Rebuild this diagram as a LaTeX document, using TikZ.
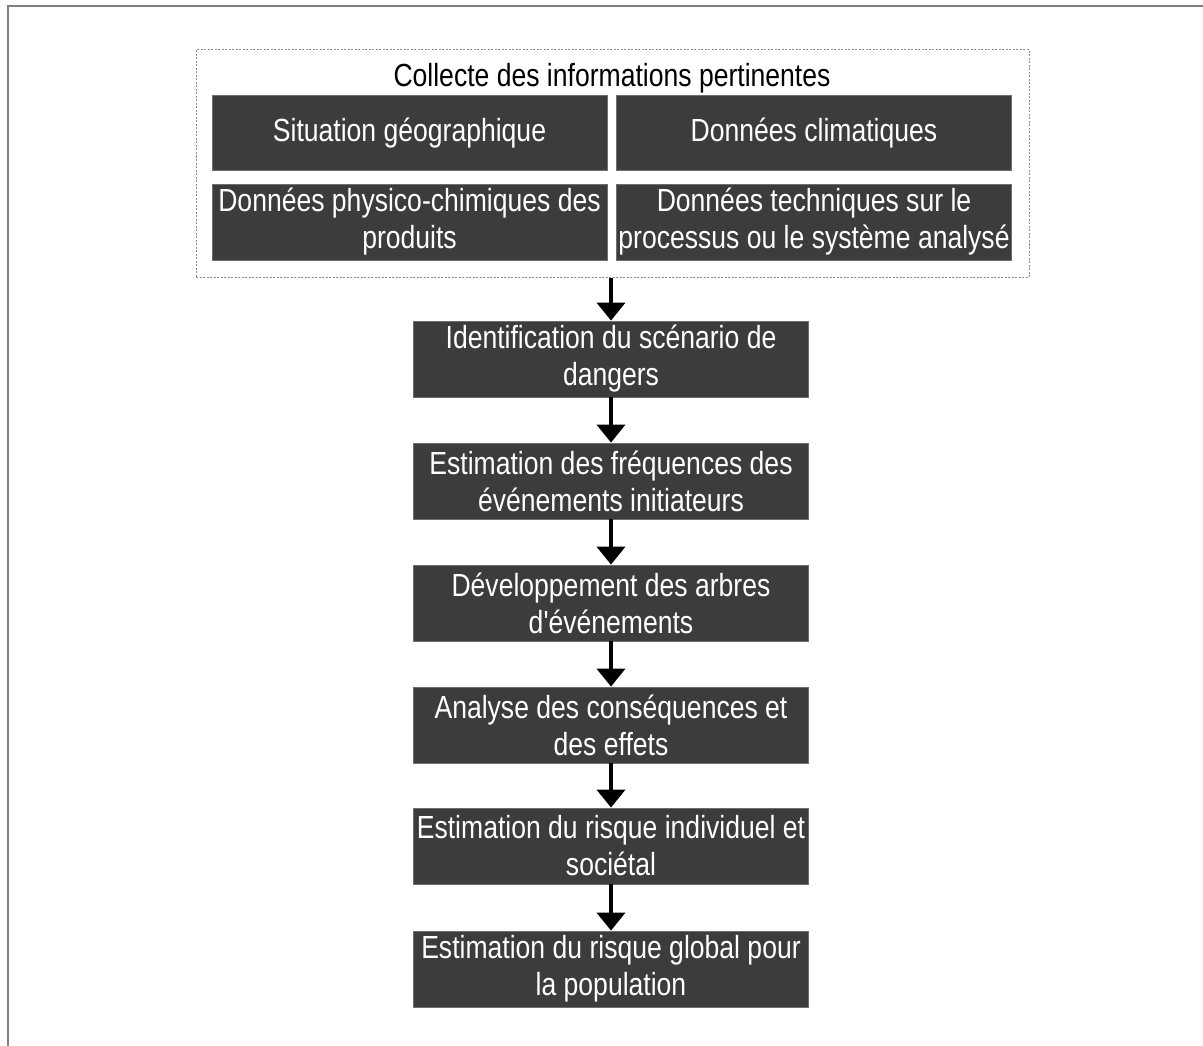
\documentclass[tikz,border=0pt]{standalone}
\usepackage{fontspec}
\setmainfont{Liberation Sans}[FakeStretch=0.83]
\newfontfamily\plainfont{Liberation Sans}[FakeStretch=0.83]
\usetikzlibrary{arrows.meta}
\definecolor{framec}{RGB}{128,128,128}
\definecolor{boxfill}{RGB}{60,60,60}
\definecolor{boxline}{RGB}{110,110,110}
\definecolor{dashc}{RGB}{140,140,140}
\newcommand\myboxfont{\fontsize{32}{37}\selectfont}
\begin{document}
\begin{tikzpicture}[x=1pt,y=-1pt,
  txt/.style={font=\myboxfont},
  dbox/.style={txt, draw=boxline, line width=0.8pt, fill=boxfill, text=white,
    inner sep=0pt, align=center, minimum width=395pt, minimum height=76pt},
  contbox/.style={draw=dashc, line width=1pt, dash pattern=on 2pt off 1.5pt,
    minimum width=833pt, minimum height=227pt, inner sep=0pt},
  flow/.style={line width=4pt, -{Triangle[width=28pt,length=18pt]}}
]
\useasboundingbox (0,0) rectangle (1203,1046);
% outer frame (top and left edges)
\draw[framec, line width=2pt] (7.5,1046) -- (7.5,6.5) -- (1203,6.5);
% container
\node[contbox] (cont) at (612.5,163.5) {};
\node[txt, anchor=base, inner sep=0pt] (title) at (612,87) {Collecte des informations pertinentes};
\node[dbox, minimum height=75pt] (s1) at (409.5,133) {Situation géographique};
\node[dbox, minimum height=75pt] (s2) at (814,133) {Données climatiques};
\node[dbox] (s3) at (409.5,222) {Données physico-chimiques des\\produits};
\node[dbox] (s4) at (814,222) {Données techniques sur le\\processus ou le système analysé};
% flow
\node[dbox] (b1) at (611,359) {Identification du scénario de\\dangers};
\node[dbox] (b2) at (611,481) {Estimation des fréquences des\\événements initiateurs};
\node[dbox] (b3) at (611,603) {Développement des arbres\\{\plainfont d'événements}};
\node[dbox] (b4) at (611,725) {Analyse des conséquences et\\des effets};
\node[dbox] (b5) at (611,846) {Estimation du risque individuel et\\sociétal};
\node[dbox] (b6) at (611,969) {Estimation du risque global pour\\la population};
\draw[flow] (b1.north |- cont.south) -- (b1.north);
\draw[flow] (b1.south) -- (b2.north);
\draw[flow] (b2.south) -- (b3.north);
\draw[flow] (b3.south) -- (b4.north);
\draw[flow] (b4.south) -- (b5.north);
\draw[flow] (b5.south) -- (b6.north);
\end{tikzpicture}
\end{document}
